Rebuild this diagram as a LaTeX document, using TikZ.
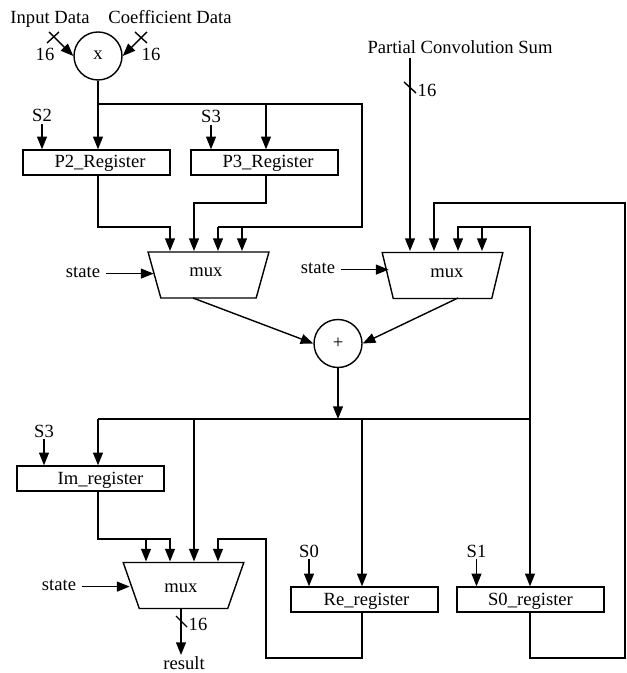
\documentclass[tikz,border=0pt]{standalone}
\usepackage{fontspec}
\setmainfont{Liberation Serif}
\usetikzlibrary{arrows.meta,shapes.geometric}
\tikzset{
  >={Triangle[length=9.5pt,width=7.4pt]},
  wire/.style={line width=1.05pt},
  arr/.style={wire,->},
  txt/.style={anchor=base,inner sep=1.5pt,font=\fontsize{13.95}{16}\selectfont},
  reg/.style={draw,line width=1.05pt,rectangle,minimum width=110.25pt,minimum height=18.75pt,inner sep=0pt,
     text height=12pt,text depth=3.75pt,font=\fontsize{13.95}{16}\selectfont},
  op/.style={draw,line width=1.05pt,circle,minimum size=36pt,inner sep=0pt},
  muxbox/.style={draw,line width=1.05pt,trapezium,shape border rotate=180,trapezium stretches=true,
     trapezium left angle=70,trapezium right angle=70,minimum width=90.75pt,minimum height=34.5pt,inner sep=0pt,outer sep=0pt,
     font=\fontsize{13.95}{16}\selectfont},
  statearr/.style={wire,->},
}
\begin{document}
\begin{tikzpicture}[x=0.75pt,y=-0.75pt]
\path[use as bounding box] (0,0) rectangle (626,673);

% operators
\node[op] (mult) at (98,56) {};
\node[txt] (multt) at (98,60) {x};
\node[op] (add) at (338,343.5) {};
\node[txt] (addt) at (338,348) {+};

% registers
\node[reg] (p2) at (96.5,162.5) {\hspace*{5.25pt}P2\_Register};
\node[reg] (p3) at (264.5,162.5) {\hspace*{5.25pt}P3\_Register};
\node[reg] (im) at (90.5,478.5) {\hspace*{15pt}Im\_register};
\node[reg] (re) at (364.5,599.5) {\hspace*{3pt}Re\_register};
\node[reg] (s0) at (530.5,599.5) {S0\_register};

% multiplexers
\node[muxbox,text height=6pt,text depth=4.5pt] (mux1) at (208.5,275) {mux\hspace*{3.75pt}};
\node[muxbox,text height=6pt,text depth=3.75pt] (mux2) at (442.5,275.5) {\hspace*{6.75pt}mux};
\node[muxbox,text height=12pt,text depth=2.25pt] (mux3) at (183.5,585.5) {mux\hspace*{3.75pt}};

% labels
\node[txt] (ind) at (50,24) {Input Data};
\node[txt] (cod) at (170,24) {Coefficient Data};
\node[txt] (w1) at (45,61) {16};
\node[txt] (w2) at (151,61) {16};
\node[txt] (pcs) at (460,54) {Partial Convolution Sum};
\node[txt] (w3) at (427,97) {16};
\node[txt] (w4) at (198,630) {16};
\node[txt] (res) at (184,669) {result};
\node[txt] (ls2) at (42,122) {S2};
\node[txt] (ls3) at (211,123) {S3};
\node[txt] (lt3) at (44,437) {S3};
\node[txt] (ls0) at (309,557) {S0};
\node[txt] (ls1) at (476.5,557) {S1};
\node[txt] (st1) at (83,277) {state};
\node[txt] (st2) at (318,273) {state};
\node[txt] (st3) at (59,590) {state};

% control signals
\draw[arr] (ls2.south) -- (ls2.south |- p2.north);
\draw[arr] (ls3.south) -- (ls3.south |- p3.north);
\draw[arr] (lt3.south) -- (lt3.south |- im.north);
\draw[arr] (ls0.south) -- (ls0.south |- re.north);
\draw[arr] (ls1.south) -- (ls1.south |- s0.north);
\draw[statearr] ([shift={(2.5pt,-1.3pt)}]st1.east) -- ++(48,0);
\draw[statearr] ([shift={(2.5pt,-1.3pt)}]st2.east) -- ++(48,0);
\draw[statearr] ([shift={(2.5pt,-1.3pt)}]st3.east) -- ++(48,0);

% multiplier inputs
\coordinate (ia) at (49,32);
\coordinate (ib) at (147,32);
\draw[arr] (ia) -- (mult.west);
\draw[arr] (ib) -- (mult.east);
\draw[wire] (47,43) -- (59,32);
\draw[wire] (135,32) -- (147,43);

% multiplier output bus
\coordinate (b1) at (98,104);
\coordinate (b2) at (266,104);
\coordinate (b3) at (362,104);
\coordinate (b4) at (218,227);
\coordinate (b5) at (242,227);
\draw[wire] (mult.south) -- (b1) -- (b3) -- (362,227) -- (b4);
\draw[arr] (b1) -- (b1 |- p2.north);
\draw[arr] (b2) -- (b2 |- p3.north);
\draw[arr] (b4) -- (218,251);
\draw[arr] (b5) -- (242,251);

% register outputs into mux 1
\draw[arr] (b1 |- p2.south) -- (98,227) -- (170,227) -- (170,251);
\draw[arr] (b2 |- p3.south) -- (266,203) -- (194,203) -- (194,251);

% mux 2 inputs
\coordinate (p1) at (410,58);
\coordinate (c1) at (530,419);
\coordinate (c2) at (482,227);
\draw[arr] (p1) -- (410,251);
\draw[wire] (404,82) -- (416,93);
\draw[arr] (c1 |- s0.south) -- (530,658) -- (625,658) -- (625,203) -- (434,203) -- (434,251);
\draw[arr] (c1) -- (530,227) -- (458,227) -- (458,251);
\draw[arr] (c2) -- (482,251);

% adder
\draw[arr] (193,298) -- (add.west);
\draw[arr] (458,298) -- (add.east);
\coordinate (d0) at (338,419);
\draw[arr] (add.south) -- (d0);

% result bus
\coordinate (d1) at (98,419);
\coordinate (d2) at (194,419);
\coordinate (d3) at (362,419);
\draw[wire] (d1) -- (c1);
\draw[arr] (d1) -- (d1 |- im.north);
\draw[arr] (d2) -- (194,561.5);
\draw[arr] (d3) -- (d3 |- re.north);
\draw[arr] (c1) -- (c1 |- s0.north);

% mux 3 inputs
\coordinate (e1) at (146,539);
\draw[arr] (d1 |- im.south) -- (98,539) -- (170,539) -- (170,561.5);
\draw[arr] (e1) -- (146,561.5);
\draw[arr] (d3 |- re.south) -- (362,658) -- (266,658) -- (266,539) -- (218,539) -- (218,561.5);

% output
\draw[arr] (181,608) -- (181,655);
\draw[wire] (176,616) -- (187,627);
\end{tikzpicture}
\end{document}
